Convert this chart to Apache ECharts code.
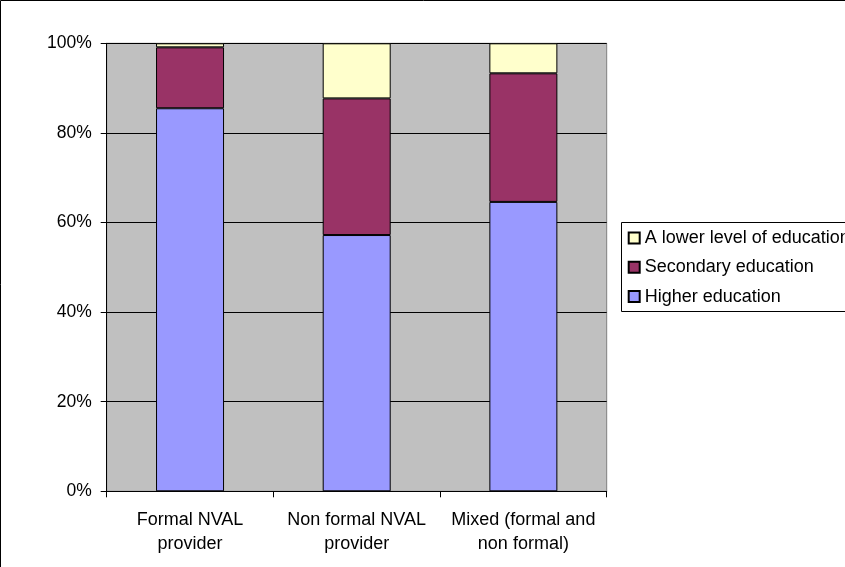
<!DOCTYPE html>
<html>
<head>
<meta charset="utf-8">
<script src="https://cdn.jsdelivr.net/npm/echarts@6/dist/echarts.min.js"></script>
<style>html,body{margin:0;padding:0;background:#fff}#c{width:845px;height:567px}</style>
</head>
<body>
<div id="c"></div>
<script>
var categories = ['Formal NVAL\nprovider', 'Non formal NVAL\nprovider', 'Mixed (formal and\nnon formal)'];
var higherEducation = [85.5, 57.2, 64.6];
var secondaryEducation = [13.6, 30.5, 28.7];
var lowerEducation = [0.9, 12.3, 6.7];
var yTicks = [0, 20, 40, 60, 80, 100];
var seriesNames = ['Higher education', 'Secondary education', 'A lower level of education'];

var font = 'Arial, "Liberation Sans", sans-serif';
var chart = echarts.init(document.getElementById('c'), null, {renderer: 'canvas'});
function mk(name, data, color) {
  return {
    name: name, type: 'bar', stack: 'total', data: data, barWidth: 68,
    itemStyle: {color: color, borderColor: '#000', borderWidth: 1},
    emphasis: {disabled: true}
  };
}
chart.setOption({
  animation: false,
  textStyle: {fontFamily: font},
  graphic: [
    {type: 'rect', shape: {x: 0.5, y: 0.5, width: 2000, height: 2000}, style: {fill: 'none', stroke: '#000', lineWidth: 1}, silent: true, z: 0},
    {type: 'rect', shape: {x: 621.5, y: 222.5, width: 400, height: 89}, style: {fill: '#fff', stroke: '#000', lineWidth: 1}, silent: true, z: 1}
  ],
  grid: {left: 106.7, right: 238.3, top: 43.3, bottom: 75.7, show: true, backgroundColor: '#C0C0C0', borderColor: '#808080', borderWidth: 1},
  legend: {
    orient: 'vertical', left: 621.7, top: 222, icon: 'rect', itemWidth: 11, itemHeight: 11, itemGap: 9.3,
    padding: [6, 20, 6, 6], borderWidth: 0, z: 5,
    data: [seriesNames[2], seriesNames[1], seriesNames[0]],
    textStyle: {fontSize: 18, color: '#000', lineHeight: 20, fontFamily: font},
    selectedMode: false
  },
  xAxis: {
    type: 'category', data: categories,
    axisLine: {lineStyle: {color: '#000', width: 1}},
    axisTick: {show: true, length: 6, lineStyle: {color: '#000'}},
    axisLabel: {color: '#000', fontSize: 18, lineHeight: 24.5, margin: 16, interval: 0, fontFamily: font}
  },
  yAxis: {
    type: 'value', min: 0, max: 100, interval: 20,
    axisLine: {show: true, lineStyle: {color: '#000', width: 1}},
    axisTick: {show: true, length: 6, lineStyle: {color: '#000'}},
    axisLabel: {color: '#000', fontSize: 17.5, margin: 15, formatter: '{value}%', fontFamily: font},
    splitLine: {show: true, lineStyle: {color: '#000', width: 1}}
  },
  series: [
    mk(seriesNames[0], higherEducation, '#9999FF'),
    mk(seriesNames[1], secondaryEducation, '#993366'),
    mk(seriesNames[2], lowerEducation, '#FFFFCC')
  ]
});
</script>
</body>
</html>
